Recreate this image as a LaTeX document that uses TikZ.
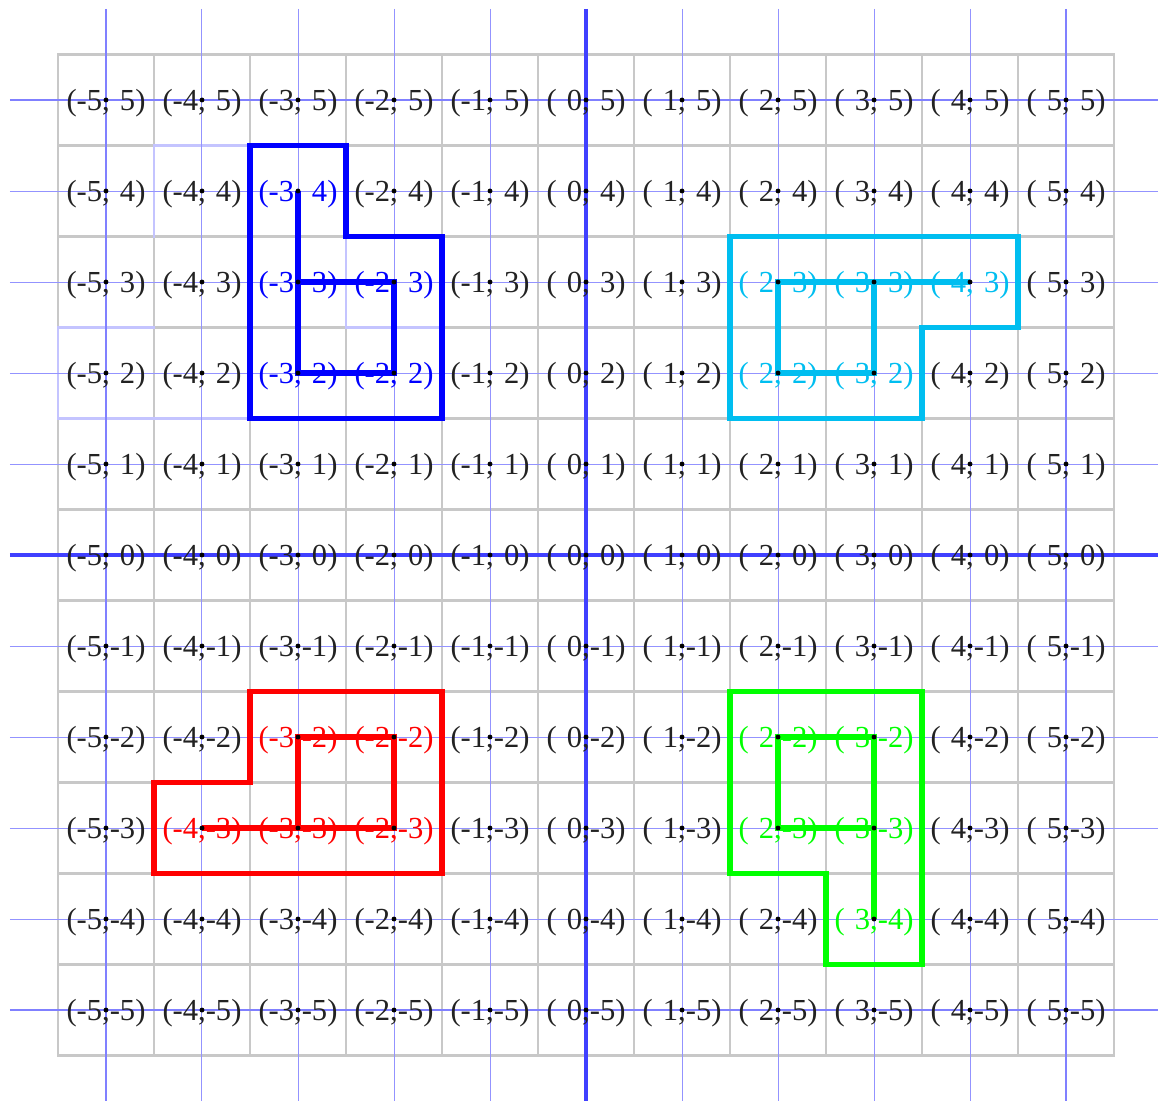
\documentclass[tikz,border=0pt]{standalone}
\usepackage{fontspec}
\setmainfont{Liberation Serif}
\usepackage{tikz}
\usetikzlibrary{positioning}
\definecolor{cellgray}{RGB}{200,200,200}
\definecolor{paleblue}{RGB}{196,196,255}
\definecolor{latblue}{RGB}{128,128,255}
\definecolor{axisblue}{RGB}{64,64,255}
\definecolor{figblue}{RGB}{0,0,255}
\definecolor{figcyan}{RGB}{0,190,240}
\definecolor{figred}{RGB}{255,0,0}
\definecolor{figgreen}{RGB}{0,255,0}
\definecolor{txtgray}{RGB}{34,34,34}
\tikzstyle{cellline} = [cellgray, line width=0.75pt, line cap=rect]
\tikzstyle{oldline} = [paleblue, line width=0.75pt, line cap=rect]
\tikzstyle{thinline} = [latblue!85, line width=0.28pt]
\tikzstyle{edgeline} = [latblue, line width=0.6pt]
\tikzstyle{axisline} = [axisblue, line width=1.15pt]
\tikzstyle{outline} = [line width=1.5pt, line cap=rect]
\tikzstyle{walk} = [line width=1.5pt]
\tikzstyle{coordtext} = [inner sep=0pt, anchor=base, yshift=-2.9pt, text=txtgray,
  font=\fontsize{8.7pt}{10pt}\selectfont]
% cells whose label takes the colour of the figure
\tikzset{
  c-3_4/.style={text=figblue}, c-3_3/.style={text=figblue}, c-2_3/.style={text=figblue},
  c-3_2/.style={text=figblue}, c-2_2/.style={text=figblue},
  c2_3/.style={text=figcyan}, c3_3/.style={text=figcyan}, c4_3/.style={text=figcyan},
  c2_2/.style={text=figcyan}, c3_2/.style={text=figcyan},
  c-3_-2/.style={text=figred}, c-2_-2/.style={text=figred}, c-4_-3/.style={text=figred},
  c-3_-3/.style={text=figred}, c-2_-3/.style={text=figred},
  c2_-2/.style={text=figgreen}, c3_-2/.style={text=figgreen}, c2_-3/.style={text=figgreen},
  c3_-3/.style={text=figgreen}, c3_-4/.style={text=figgreen}
}
\newcommand{\padnum}[1]{\ifnum#1<0 #1\else\hphantom{-}#1\fi}

\begin{document}
\begin{tikzpicture}[x=0.96cm, y=0.91cm]
    \useasboundingbox (-6.104,-5.989) rectangle (5.958,6.099);
    % cells
    \foreach \i in {-5.5,-4.5,...,5.5} {
        \draw[cellline] (\i,-5.5) -- (\i,5.5);
        \draw[cellline] (-5.5,\i) -- (5.5,\i);
    }
    \draw[oldline] (-4.5,3.5) -- (-4.5,4.5) -- (-3.5,4.5);
    \draw[oldline] (-4.5,2.5) -- (-5.5,2.5) -- (-5.5,1.5) -- (-3.5,1.5);
    \draw[oldline] (-2.5,3.5) -- (-2.5,2.5) -- (-1.5,2.5);
    % lattice
    \foreach \i in {-4,...,-1,1,2,3,4} {
        \draw[thinline] (\i,6) -- (\i,-6);
        \draw[thinline] (-6,\i) -- (6,\i);
    }
    \foreach \i in {-5,5} {
        \draw[edgeline] (\i,6) -- (\i,-6);
        \draw[edgeline] (-6,\i) -- (6,\i);
    }
    \draw[axisline] (0,6) -- (0,-6);
    \draw[axisline] (-6,0) -- (6,0);
    \foreach \x in {-5,...,5}
        \foreach \y in {-5,...,5}
            \coordinate (p\x_\y) at (\x,\y);
    % figures
    \draw[outline, figblue] (-3.5,4.5) -- (-2.5,4.5) -- (-2.5,3.5) -- (-1.5,3.5) -- (-1.5,1.5) -- (-3.5,1.5) -- cycle;
    \draw[walk, figblue] (p-3_4) -- (p-3_2) -- (p-2_2) -- (p-2_3) -- (p-3_3);
    \draw[outline, figcyan] (1.5,3.5) -- (4.5,3.5) -- (4.5,2.5) -- (3.5,2.5) -- (3.5,1.5) -- (1.5,1.5) -- cycle;
    \draw[walk, figcyan] (p4_3) -- (p2_3) -- (p2_2) -- (p3_2) -- (p3_3);
    \draw[outline, figred] (-3.5,-1.5) -- (-1.5,-1.5) -- (-1.5,-3.5) -- (-4.5,-3.5) -- (-4.5,-2.5) -- (-3.5,-2.5) -- cycle;
    \draw[walk, figred] (p-4_-3) -- (p-2_-3) -- (p-2_-2) -- (p-3_-2) -- (p-3_-3);
    \draw[outline, figgreen] (1.5,-1.5) -- (3.5,-1.5) -- (3.5,-4.5) -- (2.5,-4.5) -- (2.5,-3.5) -- (1.5,-3.5) -- cycle;
    \draw[walk, figgreen] (p3_-4) -- (p3_-2) -- (p2_-2) -- (p2_-3) -- (p3_-3);
    % points and labels
    \foreach \x in {-5,...,5}
        \foreach \y in {-5,...,5} {
            \fill[black] (p\x_\y) circle (0.7pt);
            \node[coordtext, c\x_\y/.try] (l\x_\y) at (p\x_\y) {(\padnum{\x},\padnum{\y})};
        }
\end{tikzpicture}
\end{document}
